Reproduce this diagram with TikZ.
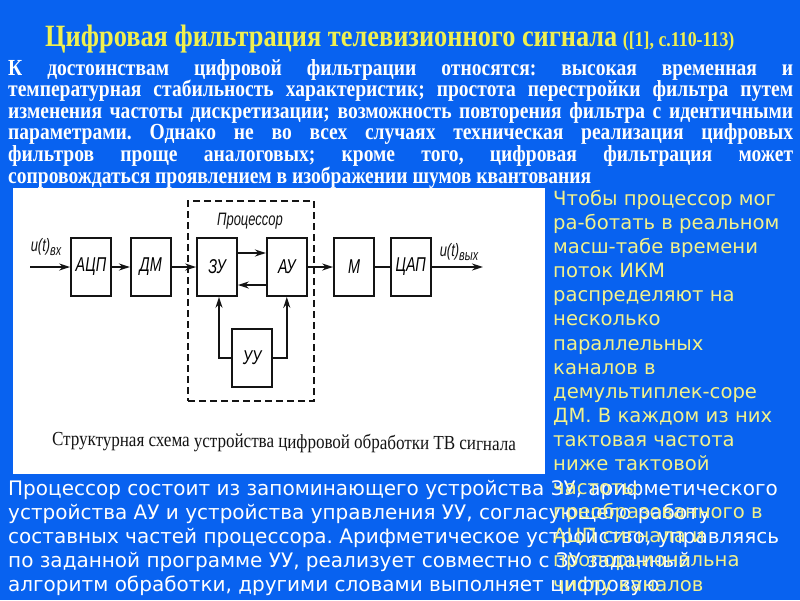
\documentclass[tikz,border=0pt]{standalone}
\usepackage{fontspec}
\setmainfont{Liberation Serif}
\newfontfamily\headfont[FakeStretch=0.85]{Liberation Serif}
\newfontfamily\gostfont[FakeStretch=0.72]{Liberation Sans}
\newfontfamily\slidefont{DejaVu Sans}
\usetikzlibrary{arrows.meta,positioning}
\definecolor{Slide}{HTML}{0862F0}
\definecolor{Head}{HTML}{F0F050}
\definecolor{Note}{HTML}{F2F28C}
\definecolor{Ink}{HTML}{141414}
\tikzset{block/.style={draw=Ink,line width=1.8pt,minimum width=40pt,minimum height=58pt,inner sep=0pt,font=\gostfont\itshape\fontsize{20}{20}\selectfont},procbox/.style={draw=Ink,line width=1.6pt,dash pattern=on 7pt off 4pt,minimum width=126pt,minimum height=200pt},gost/.style={inner sep=0pt,text=Ink,font=\gostfont\itshape\fontsize{18}{18}\selectfont},flow/.style={-{Stealth[length=11pt,width=7pt]},line width=1.8pt,draw=Ink},wire/.style={line width=1.8pt,draw=Ink}}

\begin{document}
\frenchspacing
\begin{tikzpicture}[x=1pt,y=-1pt]
      \fill[Slide](0,0)rectangle(800,600);
      \useasboundingbox(0,0)rectangle(800,600);
      % heading and the text under it
      \node[anchor=base west,inner sep=0pt,text=Head,font=\headfont\bfseries\fontsize{31}{31}\selectfont](title)at(45,46){Цифровая фильтрация телевизионного сигнала};
      \node[anchor=base west,inner sep=0pt,text=Head,font=\headfont\bfseries\fontsize{21}{21}\selectfont,xshift=5pt](source)at(title.base east){([1], с.110-113)};
      \node[anchor=north west,inner sep=0pt,text=white,text width=785pt,align=justify,font=\headfont\bfseries\fontsize{23}{21.6}\selectfont](intro)at(8,59){\hyphenpenalty=10000 К достоинствам цифровой фильтрации относятся: высокая временная и\linebreak температурная стабильность характеристик; простота перестройки фильтра путем\linebreak изменения частоты дискретизации; возможность повторения фильтра с идентичными\linebreak параметрами. Однако не во всех случаях техническая реализация цифровых\linebreak фильтров проще аналоговых; кроме того, цифровая фильтрация может\linebreak сопровождаться проявлением в изображении шумов квантования};
      % block diagram
      \fill[white](13,188)rectangle(545,474);
      \node[procbox](proc)at(251,301){};
      \node[gost](proclabel)at(250,221){Процессор};
      \node[block](adc)at(91,267){АЦП};
      \node[block,right=18pt of adc](dm){ДМ};
      \node[block](zu)at(217,267){ЗУ};
      \node[block,right=28pt of zu](au){АУ};
      \node[block](uu)at(252,358){УУ};
      \node[block](mod)at(354,267){М};
      \node[block,right=15pt of mod](dac){ЦАП};
      \coordinate(in)at(30,267);\coordinate(out)at(483,267);
      \node[gost](inlabel)at(46,247){u(t)\lower4pt\hbox{\fontsize{15}{15}\selectfont вх}};
      \node[gost](outlabel)at(459,252){u(t)\lower4pt\hbox{\fontsize{15}{15}\selectfont вых}};
      \draw[flow](in)--(adc);\draw[flow](adc)--(dm);\draw[flow](dm)--(zu);
      \draw[flow]([yshift=14pt]zu.east)--([yshift=14pt]au.west);
      \draw[flow]([yshift=-18pt]au.west)--([yshift=-18pt]zu.east);
      \draw[flow](uu.west)-|([xshift=2pt]zu.south);
      \draw[flow](uu.east)-|(au.south);
      \draw[flow](au)--(mod);\draw[wire](mod)--(dac);\draw[flow](dac)--(out);
      \node[text=Ink,font=\headfont\fontsize{20}{20}\selectfont,rotate=-0.6](caption)at(284,443){Структурная схема устройства цифровой обработки ТВ сигнала};
      % slide text below and to the right
      \node[anchor=north west,inner sep=0pt,text=white,align=left,font=\slidefont\fontsize{20}{24}\selectfont](body)at(8,480){Процессор состоит из запоминающего устройства ЗУ, арифметического\\устройства АУ и устройства управления УУ, согласующего работу\\составных частей процессора. Арифметическое устройство, управляясь\\по заданной программе УУ, реализует совместно с ЗУ заданный\\алгоритм обработки, другими словами выполняет цифровую};
      \node[anchor=north west,inner sep=0pt,text=Note,align=left,font=\slidefont\fontsize{19.6}{24.1}\selectfont](side)at(553,190){Чтобы процессор мог\\ра-ботать в реальном\\масш-табе времени\\поток ИКМ\\распределяют на\\несколько\\параллельных\\каналов в\\демультиплек-соре\\ДМ. В каждом из них\\тактовая частота\\ниже тактовой\\частоты\\преобразованного в\\АЦП сигнала и\\пропорциональна\\числу каналов};
    \end{tikzpicture}
\end{document}
